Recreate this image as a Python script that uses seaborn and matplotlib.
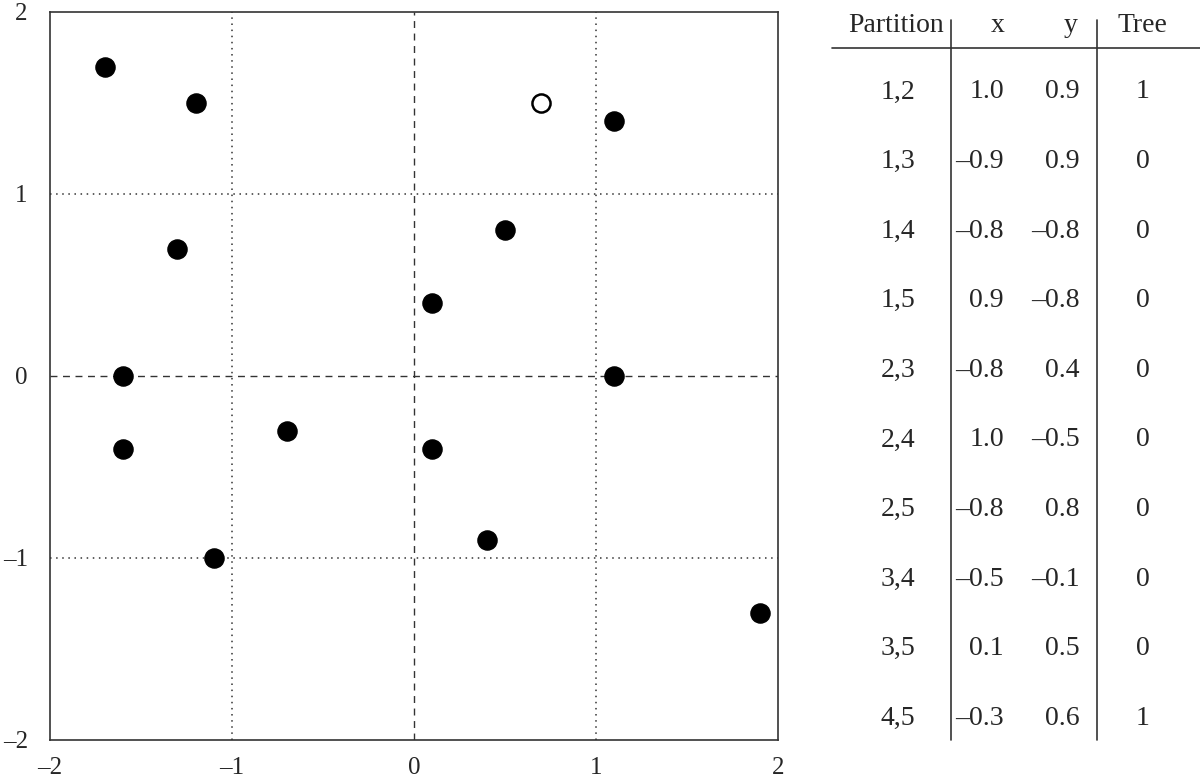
import matplotlib
matplotlib.use("Agg")
import matplotlib.pyplot as plt
import seaborn as sns
import pandas as pd

# Scatter data
px = [-1.7, -1.2, 0.7, 1.1, -1.3, 0.5, 0.1, -1.6, 1.1, -1.6, -0.7, 0.1, 0.4, -1.1, 1.9]
py = [1.7, 1.5, 1.5, 1.4, 0.7, 0.8, 0.4, 0.0, 0.0, -0.4, -0.3, -0.4, -0.9, -1.0, -1.3]
filled = [True, True, False, True, True, True, True, True, True, True, True, True, True, True, True]

# Table data
partitions = ["1,2", "1,3", "1,4", "1,5", "2,3", "2,4", "2,5", "3,4", "3,5", "4,5"]
tab_x = [1.0, -0.9, -0.8, 0.9, -0.8, 1.0, -0.8, -0.5, 0.1, -0.3]
tab_y = [0.9, 0.9, -0.8, -0.8, 0.4, -0.5, 0.8, -0.1, 0.5, 0.6]
tree = [1, 0, 0, 0, 0, 0, 0, 0, 0, 1]
headers = ["Partition", "x", "y", "Tree"]
ticks = [-2, -1, 0, 1, 2]

sns.set_theme(style="white")
plt.rcParams['font.family'] = ['Liberation Serif', 'DejaVu Serif']
plt.rcParams['axes.unicode_minus'] = False

df = pd.DataFrame({"x": px, "y": py, "filled": filled})

fig = plt.figure(figsize=(12, 7.8), dpi=100)
ax = fig.add_axes([50/1200, 40/780, 728/1200, 728/780])

ax.axvline(0, color="#333333", lw=1.0, ls=(0, (5, 4)), zorder=1)
ax.axhline(0, color="#333333", lw=1.0, ls=(0, (5, 4)), zorder=1)
for v in (-1, 1):
    ax.axvline(v, color="#333333", lw=1.1, ls=(0, (1, 3)), zorder=1)
    ax.axhline(v, color="#333333", lw=1.1, ls=(0, (1, 3)), zorder=1)

sns.scatterplot(data=df[df["filled"]], x="x", y="y", ax=ax, s=190,
                color="black", edgecolor="black", linewidth=1, zorder=3, legend=False)
sns.scatterplot(data=df[~df["filled"]], x="x", y="y", ax=ax, s=170,
                facecolor="white", edgecolor="black", linewidth=1.8, zorder=3, legend=False)

ax.set_xlim(-2, 2)
ax.set_ylim(-2, 2)
ax.set_xticks(ticks)
ax.set_yticks(ticks)
ax.set_xticklabels([("\u2013" + str(-t)) if t < 0 else str(t) for t in ticks])
ax.set_yticklabels([("\u2013" + str(-t)) if t < 0 else str(t) for t in ticks])
ax.tick_params(axis="both", length=0, labelsize=18)
ax.tick_params(axis="x", pad=12)
ax.tick_params(axis="y", pad=16)
ax.set_xlabel("")
ax.set_ylabel("")
for sp in ax.spines.values():
    sp.set_color("#333333")
    sp.set_linewidth(1.2)

# Table drawn in figure pixel coordinates
def fx(p):
    return p / 1200
def fy(p):
    return 1 - p / 780

fs = 20
fig.text(fx(896), fy(25), headers[0], ha="center", va="center", fontsize=fs)
fig.text(fx(998), fy(25), headers[1], ha="center", va="center", fontsize=fs)
fig.text(fx(1078), fy(25), headers[2], ha="right", va="center", fontsize=fs)
fig.text(fx(1142), fy(25), headers[3], ha="center", va="center", fontsize=fs)

fig.add_artist(plt.Line2D([fx(832), fx(1200)], [fy(48), fy(48)], color="#333333", lw=1.2))
for xv in (951, 1097):
    fig.add_artist(plt.Line2D([fx(xv), fx(xv)], [fy(20), fy(740)], color="#333333", lw=1.2))

def fmt(v):
    return ("\u2013%.1f" % -v) if v < 0 else ("%.1f" % v)

row0, dy = 92, 69.6
for i in range(len(partitions)):
    yy = fy(row0 + i * dy)
    fig.text(fx(898), yy, partitions[i], ha="center", va="center", fontsize=fs)
    fig.text(fx(1004), yy, fmt(tab_x[i]), ha="right", va="center", fontsize=fs)
    fig.text(fx(1080), yy, fmt(tab_y[i]), ha="right", va="center", fontsize=fs)
    fig.text(fx(1143), yy, str(tree[i]), ha="center", va="center", fontsize=fs)

fig.savefig("out.png", dpi=100, facecolor="white")
